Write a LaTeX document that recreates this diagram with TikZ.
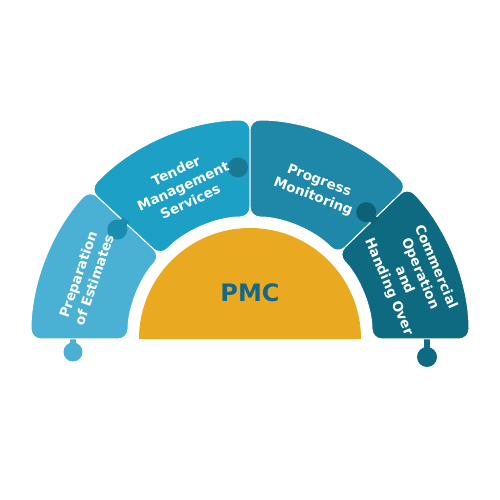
\documentclass[tikz,border=0pt]{standalone}
\usepackage{fontspec}
\setmainfont{DejaVu Sans}
\usetikzlibrary{calc}
\definecolor{cLeft}{RGB}{74,176,212}
\definecolor{cTender}{RGB}{28,160,198}
\definecolor{cProg}{RGB}{31,136,168}
\definecolor{cComm}{RGB}{14,106,128}
\definecolor{cGold}{RGB}{233,170,33}
\definecolor{cPMC}{RGB}{22,104,138}
\tikzset{
  piecelabel/.style={text=white, font=\bfseries\fontsize{13.5}{17}\selectfont, align=center, inner sep=0pt},
  knobline/.style={line width=8pt},
}
\newcommand\puzpiece[3]{%
  \fill[#1, draw=white, line width=1pt, rounded corners=10pt]
    ($(C)+(#2:219)$) arc[start angle=#2, end angle=#3, radius=219]
    -- ($(C)+(#3:122)$) arc[start angle=#3, end angle=#2, radius=122] -- cycle;}
\newcommand\sideknob[3]{% colour, boundary angle, knob angle
  \draw[#1, knobline] ($(C)+(#2:172)$) -- ($(C)+(#3:172)$);
  \fill[#1] ($(C)+(#3:172)$) circle[radius=10];}
\begin{document}
\begin{tikzpicture}[x=1pt,y=1pt]
\useasboundingbox (0,0) rectangle (500,500);
\fill[white] (0,0) rectangle (500,500);
\coordinate (C) at (250,161);
% bottom knobs
\draw[cLeft, line width=6pt] (73,162) -- (73,150);
\fill[cLeft] (73,148) circle[radius=9.5];
\draw[cComm, line width=6pt] (427,162) -- (427,145);
\fill[cComm] (427,143) circle[radius=10];
% pieces
\puzpiece{cLeft}{137}{180}
\puzpiece{cTender}{90}{137}
\sideknob{cTender!88!black}{136}{140.5}
\puzpiece{cProg}{44}{90}
\sideknob{cProg!88!black}{91}{94}
\puzpiece{cComm}{0}{44}
\sideknob{cComm!92!black}{43}{47.5}
% centre
\fill[cGold] ($(C)+(0:111)$) arc[start angle=0, end angle=180, radius=111] -- cycle;
\node[text=cPMC, font=\bfseries\fontsize{24}{28}\selectfont] (pmc) at (250,207) {PMC};
% labels
\node[piecelabel, rotate=71] (prep) at (86,223) {Preparation\\of Estimates};
\node[piecelabel, rotate=25] (tender) at (183,314) {Tender\\Management\\Services};
\node[piecelabel, rotate=-21] (prog) at (316,311) {Progress\\Monitoring};
\node[piecelabel, rotate=-67] (comm) at (412,223) {Commercial\\Operation\\and\\Handing Over};
\end{tikzpicture}
\end{document}
